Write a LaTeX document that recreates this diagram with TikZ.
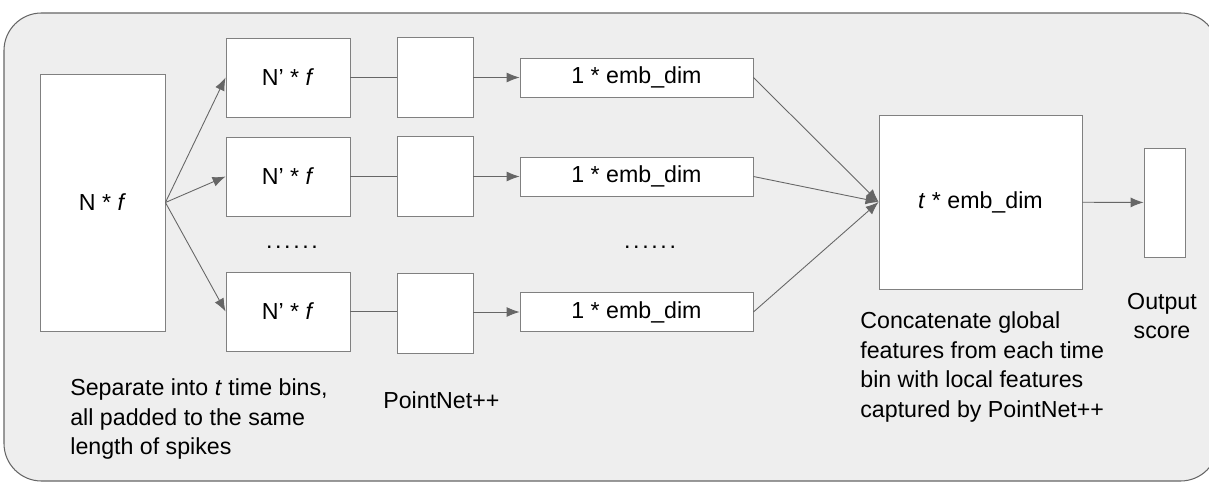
\documentclass[tikz,border=0pt]{standalone}
\usepackage{fontspec}
\setmainfont{Liberation Sans}
\usetikzlibrary{arrows.meta}
\definecolor{panel}{HTML}{EEEEEE}
\definecolor{edge}{HTML}{808080}
\definecolor{wire}{HTML}{666666}
\tikzset{
  blk/.style={draw=edge,fill=white,line width=0.5pt,inner sep=0pt},
  arr/.style={draw=wire,line width=0.5pt,-{Latex[length=2.6mm,width=2mm]}},
  ln/.style={draw=wire,line width=0.5pt},
  txt/.style={font=\fontsize{13.2}{17}\selectfont,inner sep=0pt}
}
\begin{document}
\begin{tikzpicture}[x=0.02cm,y=-0.02cm,txt]
  \clip (0,0) rectangle (1209,483);
  \draw[draw=wire,fill=panel,line width=0.6pt,rounded corners=0.75cm] (4,13) rectangle (1218,481);
  % input
  \node[blk,minimum width=2.5cm,minimum height=5.14cm] (in) at (102.5,202.5) {N * \textit{f}};
  % time bins
  \node[blk,minimum width=2.48cm,minimum height=1.58cm] (bin1) at (288,77.5) {N’ * \textit{f}};
  \node[blk,minimum width=2.48cm,minimum height=1.58cm] (bin2) at (288,176.5) {N’ * \textit{f}};
  \node[blk,minimum width=2.48cm,minimum height=1.58cm] (bin3) at (288,311.5) {N’ * \textit{f}};
  \node (dots1) at (292,247) {.\kern1.5pt.\kern1.5pt.\kern1.5pt.\kern1.5pt.\kern1.5pt.};
  % pointnet++
  \node[blk,minimum width=1.52cm,minimum height=1.6cm] (pn1) at (435,77.5) {};
  \node[blk,minimum width=1.52cm,minimum height=1.6cm] (pn2) at (435,176.5) {};
  \node[blk,minimum width=1.52cm,minimum height=1.6cm] (pn3) at (435,313) {};
  % embeddings
  \node[blk,minimum width=4.66cm,minimum height=0.78cm] (emb1) at (636.5,77.5) {1 * emb\_dim};
  \node[blk,minimum width=4.66cm,minimum height=0.78cm] (emb2) at (636.5,176.5) {1 * emb\_dim};
  \node[blk,minimum width=4.66cm,minimum height=0.78cm] (emb3) at (636.5,312) {1 * emb\_dim};
  \node (dots2) at (650,247) {.\kern1.5pt.\kern1.5pt.\kern1.5pt.\kern1.5pt.\kern1.5pt.};
  % concat and output
  \node[blk,minimum width=4.06cm,minimum height=3.48cm] (cat) at (980.5,202) {\textit{t} * emb\_dim};
  \node[blk,minimum width=0.82cm,minimum height=2.18cm] (out) at (1164.5,202.5) {};
  % notes
  \node[anchor=west,align=left] (sep) at (70,419) {Separate into \textit{t} time bins,\\all padded to the same\\length of spikes};
  \node[anchor=west] (pnlbl) at (383,400) {PointNet++};
  \node[anchor=west,align=left] (catlbl) at (860,367) {Concatenate global\\features from each time\\bin with local features\\captured by PointNet++};
  \node[align=center] (outlbl) at (1162,316) {Output\\score};
  % connectors
  \draw[arr] (in.east) -- (bin1.west);
  \draw[arr] (in.east) -- (bin2.west);
  \draw[arr] (in.east) -- (bin3.west);
  \draw[ln] (bin1) -- (pn1);
  \draw[ln] (bin2) -- (pn2);
  \draw[ln] (bin3.east) -- (bin3.east -| pn3.west);
  \draw[arr] (pn1) -- (emb1);
  \draw[arr] (pn2) -- (emb2);
  \draw[arr] (pn3.east |- emb3.west) -- (emb3.west);
  \draw[arr] (emb1.east) -- (cat.west);
  \draw[arr] (emb2.east) -- (cat.west);
  \draw[arr] (emb3.east) -- (cat.west);
  \draw[arr] (cat) -- (out);
\end{tikzpicture}
\end{document}
